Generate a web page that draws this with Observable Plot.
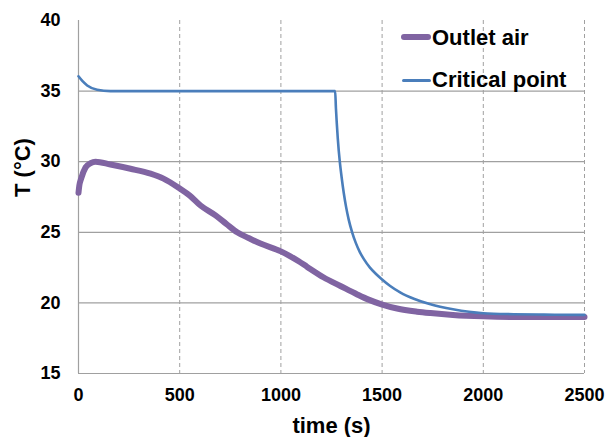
<!DOCTYPE html>
<html>
<head>
<meta charset="utf-8">
<script src="https://cdn.jsdelivr.net/npm/d3@7"></script>
<script src="https://cdn.jsdelivr.net/npm/@observablehq/plot@0.6"></script>
<style>
  body { margin: 0; background: #fff; }
  #wrap { position: relative; width: 608px; height: 437px; font-family: "Liberation Sans", Arial, sans-serif; }
  .leg { position: absolute; font-weight: bold; font-size: 22px; line-height: 22px; color: #000; white-space: nowrap; }
  .sw { position: absolute; }
</style>
</head>
<body>
<div id="wrap"></div>
<script>
// ---- data ----
const seriesNames = ["Outlet air", "Critical point"];
const seriesColors = ["#8064A2", "#4A7EBB"];

const outletTime = [0, 4, 13, 35, 60, 84, 158, 257, 356, 420, 500, 550, 603, 677, 730, 784, 840, 899, 1000, 1047, 1088, 1130, 1212, 1294, 1377, 1430, 1497, 1574, 1673, 1739, 1850, 2000, 2200, 2500];
const outletTemp = [27.8, 28.3, 28.8, 29.6, 29.9, 30.0, 29.8, 29.5, 29.15, 28.8, 28.1, 27.6, 26.9, 26.2, 25.6, 25.0, 24.6, 24.2, 23.65, 23.3, 22.95, 22.55, 21.8, 21.2, 20.6, 20.25, 19.9, 19.6, 19.38, 19.28, 19.15, 19.05, 19.0, 19.0];

const critTime = [0, 20, 43, 92, 158, 250, 1268, 1272, 1276, 1281, 1286, 1291, 1300, 1311, 1322, 1335, 1352, 1370, 1390, 1410, 1440, 1470, 1497, 1540, 1591, 1660, 1739, 1850, 2000, 2150, 2300, 2500];
const critTemp = [36.05, 35.7, 35.4, 35.1, 35.0, 35.0, 35.0, 33.75, 32.75, 31.65, 30.75, 30.0, 28.9, 27.75, 26.8, 25.9, 25.0, 24.25, 23.6, 23.1, 22.5, 22.05, 21.7, 21.2, 20.73, 20.28, 19.9, 19.55, 19.27, 19.2, 19.17, 19.15];

const xTicks = [0, 500, 1000, 1500, 2000, 2500];
const yTicks = [15, 20, 25, 30, 35, 40];
const xTitle = "time (s)";
const yTitle = "T (°C)";

// ---- build tables ----
const outlet = outletTime.map((t, i) => ({t, T: outletTemp[i]}));
const crit = critTime.map((t, i) => ({t, T: critTemp[i]}));

const grid = "#a0a0a0";
const font = "'Liberation Sans', Arial, sans-serif";

const chart = Plot.plot({
  width: 608,
  height: 437,
  marginLeft: 78,
  marginRight: 24,
  marginTop: 20,
  marginBottom: 64,
  style: {fontFamily: font, fontSize: "18px", fontWeight: "bold", color: "#000", background: "#fff", overflow: "visible"},
  x: {domain: [0, 2500]},
  y: {domain: [15, 40]},
  marks: [
    Plot.ruleY(yTicks.filter(v => v > 15 && v < 40), {stroke: grid, strokeWidth: 1.2}),
    Plot.ruleX(xTicks.filter(v => v > 0), {stroke: grid, strokeWidth: 1, strokeDasharray: "4,3"}),
    Plot.ruleX([0], {stroke: grid, strokeWidth: 1.2}),
    Plot.ruleY([15], {stroke: grid, strokeWidth: 1.2}),
    Plot.line(outlet, {x: "t", y: "T", stroke: seriesColors[0], strokeWidth: 6, curve: "monotone-x"}),
    Plot.line(crit, {x: "t", y: "T", stroke: seriesColors[1], strokeWidth: 2.6, curve: "monotone-x"}),
    Plot.axisX({ticks: xTicks, tickFormat: d3.format("d"), tickSize: 0, tickPadding: 15, label: null, fontSize: 18, fontWeight: "bold"}),
    Plot.axisY({ticks: yTicks, tickFormat: d3.format("d"), tickSize: 0, tickPadding: 18, label: null, fontSize: 18, fontWeight: "bold"}),
    Plot.text([xTitle], {frameAnchor: "bottom", dy: 59, fontSize: 22, fontWeight: "bold", fill: "#000"}),
    Plot.text([yTitle], {frameAnchor: "left", dx: -56, rotate: -90, fontSize: 22, fontWeight: "bold", fill: "#000"})
  ]
});

const wrap = document.getElementById("wrap");
wrap.appendChild(chart);

// legend overlay
const legendPos = [
  {swTop: 34, swH: 6, swLeft: 401, swW: 30, textTop: 26.5},
  {swTop: 79, swH: 3, swLeft: 402, swW: 29, textTop: 69}
];
seriesNames.forEach((name, i) => {
  const p = legendPos[i];
  const sw = document.createElement("div");
  sw.className = "sw";
  sw.style.cssText = `left:${p.swLeft}px;top:${p.swTop}px;width:${p.swW}px;height:${p.swH}px;background:${seriesColors[i]};border-radius:${p.swH/2}px;`;
  wrap.appendChild(sw);
  const tx = document.createElement("div");
  tx.className = "leg";
  tx.style.left = "432px";
  tx.style.top = p.textTop + "px";
  tx.textContent = name;
  wrap.appendChild(tx);
});
</script>
</body>
</html>
